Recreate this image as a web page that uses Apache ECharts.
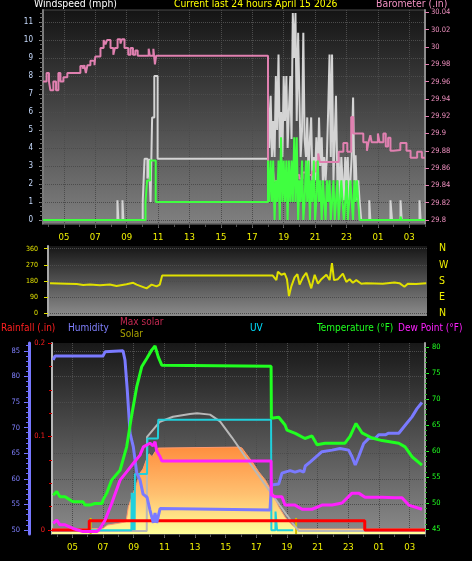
<!DOCTYPE html>
<html><head><meta charset="utf-8">
<script src="https://cdn.jsdelivr.net/npm/echarts@6/dist/echarts.min.js"></script>
<style>html,body{margin:0;padding:0;background:#000;}#c{width:472px;height:561px;}</style>
</head><body><div id="c"></div>
<script>
// ---------- tick / label arrays ----------
const X_MIN = 3.67, X_MAX = 28.0;              // hours (24+ = next day)
const hourLabels = [5,7,9,11,13,15,17,19,21,23,25,27];
const hourTicks = [4,5,6,7,8,9,10,11,12,13,14,15,16,17,18,19,20,21,22,23,24,25,26,27,28];
const windTicks = [0,1,2,3,4,5,6,7,8,9,10,11];
const baroTicks = [29.8,29.82,29.84,29.86,29.88,29.9,29.92,29.94,29.96,29.98,30,30.02,30.04];
const dirTicks = [0,90,180,270,360];
const dirLetters = ['N','E','S','W','N'];
const humTicks = [50,55,60,65,70,75,80,85];
const rainTicks = [0,0.1,0.2];
const tempTicks = [45,50,55,60,65,70,75,80];
const sunTimes = [6.19, 19.59];

// ---------- top panel: wind & barometer ([hour, value], step-end) ----------
const windGust = [[3.67,0],[8.41,1.1],[8.47,0],[8.73,1.1],[8.79,0],[10.02,1.0],[10.14,3.4],[10.32,2.3],[10.42,3.4],[10.52,1.0],[10.62,5.7],[10.76,8.0],[10.97,3.4],
 [18.00,6.9],[18.08,4.0],[18.17,6.9],[18.25,3.5],[18.33,5.5],[18.42,3.5],[18.50,8.0],[18.58,5.0],[18.67,9.2],[18.75,4.0],[18.83,6.0],[18.92,3.5],
 [19.00,8.0],[19.08,5.5],[19.17,8.0],[19.25,4.0],[19.33,6.0],[19.42,8.0],[19.50,4.5],[19.58,11.5],[19.67,9.0],[19.75,11.5],[19.83,5.5],[19.92,10.4],
 [20.00,6.9],[20.08,3.5],[20.17,5.0],[20.25,10.4],[20.33,4.5],[20.42,3.5],[20.50,5.7],[20.58,2.5],[20.67,4.5],[20.75,5.7],[20.83,2.2],[20.92,3.5],
 [21.00,2.2],[21.08,4.6],[21.17,2.2],[21.25,5.7],[21.33,3.0],[21.42,4.6],[21.50,2.0],[21.58,3.5],[21.67,2.2],[21.75,3.5],[21.83,6.0],[21.92,9.2],
 [22.00,3.5],[22.08,9.2],[22.17,2.2],[22.25,4.5],[22.33,6.9],[22.42,2.2],[22.50,3.5],[22.58,1.1],[22.67,3.5],[22.75,2.2],[22.83,1.1],[22.92,3.5],
 [23.00,2.2],[23.08,3.5],[23.17,1.1],[23.25,2.2],[23.33,3.5],[23.42,6.8],[23.50,2.2],[23.58,3.6],[23.67,1.1],[23.75,2.2],[23.83,1.1],[23.94,0],
 [24.45,1.1],[24.52,0],[25.8,1.1],[25.9,0],[26.44,1.1],[26.52,0],[27.65,1.1],[27.72,0],[28.0,0]];
const windAvg = [[3.67,0],[10.2,1.0],[10.3,2.2],[10.5,3.3],[10.85,1.0],
 [18.00,3.3],[18.08,1.0],[18.17,3.3],[18.25,1.0],[18.33,3.3],[18.42,0],[18.50,2.2],[18.58,1.0],[18.67,3.3],[18.75,0],[18.83,4.6],[18.92,1.0],
 [19.00,3.3],[19.08,1.0],[19.17,3.3],[19.25,0],[19.33,3.3],[19.42,1.0],[19.50,3.3],[19.58,1.0],[19.67,4.6],[19.75,1.0],[19.83,4.6],[19.92,0],
 [20.00,2.2],[20.08,1.0],[20.17,3.3],[20.25,0],[20.33,1.0],[20.42,3.3],[20.50,1.0],[20.58,3.3],[20.67,0],[20.75,2.2],[20.83,1.0],[20.92,3.3],
 [21.00,0],[21.08,1.0],[21.17,3.3],[21.25,1.0],[21.33,2.2],[21.42,0],[21.50,2.2],[21.58,1.0],[21.67,0],[21.75,2.2],[21.83,1.0],[21.92,2.2],
 [22.00,0],[22.08,1.0],[22.17,2.2],[22.25,0],[22.33,1.0],[22.42,2.2],[22.50,0],[22.58,1.0],[22.67,2.2],[22.75,1.0],[22.83,0],[22.92,1.0],
 [23.00,2.2],[23.08,0],[23.17,1.0],[23.25,2.2],[23.33,1.0],[23.42,0],[23.50,2.2],[23.58,1.0],[23.67,2.2],[23.75,1.0],[23.83,0],
 [26.44,0.2],[26.5,0],[28.0,0]];
const baro = [[3.67,29.96],[3.9,29.97],[4.05,29.96],[4.14,29.95],[4.33,29.96],[4.5,29.95],[4.65,29.97],[4.78,29.96],[4.97,29.965],[5.22,29.97],
 [6.05,29.978],[6.2,29.975],[6.3,29.979],[6.4,29.97],[6.5,29.979],[6.69,29.984],[6.95,29.979],[7.0,29.989],[7.33,29.999],[7.53,30.008],[7.65,30.003],
 [7.75,30.008],[7.97,29.999],[8.15,29.991],[8.25,29.999],[8.42,30.009],[8.6,30.004],[8.7,30.009],[8.86,29.999],[9.1,29.991],[9.25,29.999],[9.4,29.991],
 [9.55,29.996],[9.7,29.99],[10.4,29.998],[10.47,29.99],[10.7,29.998],[10.8,29.98],[10.88,29.99],
 [18.0,29.845],[18.15,29.85],[18.3,29.86],[18.4,29.845],[18.6,29.84],[18.75,29.85],[18.9,29.838],[19.05,29.85],[19.2,29.842],[19.4,29.85],
 [19.6,29.846],[19.8,29.852],[20.0,29.848],[20.2,29.855],[20.5,29.852],[20.8,29.856],[21.07,29.867],[21.2,29.877],[21.3,29.867],[22.5,29.879],
 [22.8,29.889],[23.05,29.879],[23.3,29.919],[23.43,29.90],[24.07,29.89],[24.3,29.88],[24.4,29.89],[24.52,29.898],[24.6,29.89],[25.0,29.9],
 [25.1,29.89],[25.35,29.9],[25.5,29.885],[25.65,29.895],[25.8,29.88],[25.99,29.881],[26.43,29.889],[26.82,29.88],[27.08,29.872],[27.5,29.879],
 [27.8,29.872],[28.0,29.872]];

// ---------- middle panel: wind direction (deg) ----------
const windDir = [[3.8,168],[4.87,165],[5.51,163],[5.93,158],[6.36,160],[7.0,156],[7.64,160],[8.07,152],[8.71,162],[9.14,170],[9.36,160],[10.0,139],
 [10.32,160],[10.64,150],[10.85,160],[11.0,210],[18.1,210],[18.33,185],[18.43,232],[18.65,215],[18.86,222],[19.01,190],[19.14,96],[19.29,150],
 [19.5,200],[19.68,218],[19.82,160],[20.04,200],[20.25,226],[20.57,139],[20.79,215],[21.0,165],[21.22,190],[21.54,215],[21.75,185],[21.9,279],
 [22.03,185],[22.28,190],[22.6,221],[22.82,175],[23.03,190],[23.24,170],[23.46,185],[23.78,165],[24.1,168],[25.16,165],[25.91,172],[26.23,168],
 [26.55,148],[26.77,165],[27.3,163],[27.95,168]];

// ---------- bottom panel ----------
const temperature = [[3.75,51.5],[3.98,52.2],[4.19,51.2],[4.52,51.2],[4.63,51.4],[4.84,50.6],[5.04,50.25],[5.69,50.25],[5.82,49.6],[6.15,49.6],
 [6.47,49.9],[6.93,49.9],[7.0,50.6],[7.24,51.9],[7.56,54.4],[8.11,56.3],[8.54,60.8],[8.87,66.9],[9.2,72.4],[9.52,76.2],[9.85,77.8],[10.17,79.4],
 [10.39,80.2],[10.6,78.1],[10.83,76.5],[10.91,76.3],[17.96,76.3],[17.98,66.3],[18.46,66.5],[18.87,65],[19.0,64],[19.54,63.4],[20.17,62.4],
 [20.63,62.9],[20.96,61.2],[21.48,61.5],[22.78,61.5],[23.11,62.8],[23.5,65.3],[23.89,63.5],[24.54,62.5],[25.2,62],[26.29,61.5],[26.7,60.8],
 [27.15,58.9],[27.8,57.3]];
const humidity = [[3.75,83.2],[3.87,84.0],[7.0,84.0],[7.13,84.8],[7.26,85.0],[8.3,85.0],[8.43,83.2],[8.58,77.3],[8.76,68.9],[8.97,66.3],[9.2,61.1],
 [9.41,59.8],[9.61,57.0],[9.87,56.4],[10.06,53.9],[10.28,51.4],[10.39,53.3],[10.5,51.4],[10.72,54.2],[10.83,53.9],[17.89,53.9],[17.98,58.8],
 [18.46,59.0],[18.67,61.1],[18.87,61.3],[19.2,61.6],[19.52,61.3],[19.85,61.6],[20.09,61.3],[20.19,62.5],[20.52,63.3],[21.28,65.3],[21.94,65.6],
 [22.46,65.9],[23.02,65.6],[23.24,64.3],[23.45,62.7],[23.67,64.3],[24.0,66.9],[24.33,67.9],[24.76,67.9],[24.98,68.6],[25.41,68.6],[25.63,68.9],
 [26.29,68.9],[26.72,70.5],[27.15,72.1],[27.48,73.7],[27.8,74.9]];
const dewPoint = [[3.75,46.1],[3.98,46.7],[4.19,45.8],[4.52,45.8],[4.63,46.1],[5.04,45.1],[5.69,44.5],[6.6,44.5],[6.8,45.1],[7.13,46.7],[7.56,49.9],
 [8.11,54.4],[8.54,56],[8.97,57.6],[9.41,59.2],[9.63,60.8],[10.06,61.5],[10.26,61.0],[10.39,61.8],[10.5,60.0],[10.72,58.9],[10.83,58.1],
 [17.96,58.1],[17.98,51.5],[18.24,51.2],[18.67,51.2],[18.87,49.6],[19.52,49.6],[19.98,48.8],[20.63,48.8],[21.28,49.6],[21.94,49.6],[22.59,50.0],
 [23.24,51.9],[23.67,51.9],[24.09,51.1],[25.2,51.1],[26.04,51.0],[26.5,51.0],[26.94,49.6],[27.8,48.8]];
const rainfall = [[3.67,0],[6.1,0.01],[24.07,0],[28.0,0]];
const solar = [[3.67,10],[6.0,10],[6.05,12],[7.0,14],[7.3,31],[8.0,40],[8.5,48],[8.65,127],[8.97,198],[9.2,251],[9.41,303],[9.6,324],[9.87,382],
 [10.0,404],[10.2,389],[10.39,414],[10.6,434],[10.72,439],[15.9,439],[16.06,434],[16.39,398],[16.72,363],[17.15,310],[17.58,267],[18.02,205],
 [18.46,127],[18.89,71],[19.33,31],[19.65,12],[19.9,10],[28.0,10]];
const maxSolar = [[3.67,0],[9.85,0],[9.87,492],[10.71,572],[11.56,598],[12.67,612],[13.13,616],[13.98,609],[14.63,574],[15.41,489],[16.5,363],
 [17.58,241],[18.67,119],[19.54,22],[19.76,0],[28.0,0]];
const uvIndex = [[3.67,0],[8.85,0],[8.87,2],[8.95,0],[9.0,2],[9.06,0],[9.08,3],[9.87,3],[9.89,4.9],[10.58,4.9],[10.6,5.9],[17.96,5.9],[17.98,0],
 [18.24,0],[18.25,1],[18.34,1],[18.35,0],[19.4,0]];

// ---------- chart ----------
const FONT = "'DejaVu Sans Condensed','DejaVu Sans',sans-serif";
const fmtHour = v => String(Math.round(v) % 24).padStart(2, '0');
const fmtNum = v => String(+(+v).toFixed(3));
const bgGrad = (c1, c2) => new echarts.graphic.LinearGradient(0, 0, 0, 1, [{offset:0,color:c1},{offset:1,color:c2}]);
const range = (a, b, s) => { const r = []; for (let v = a; v <= b + 1e-9; v += s) r.push(+v.toFixed(4)); return r; };

const windMinor = range(0, 11.5, 0.25);
const rainMinor = range(0, 0.2, 0.025);
const tempMinor = range(45, 80, 1);
const humMinor = range(50, 86, 1);

function mainX(grid) {
  return {gridIndex:grid, type:'value', min:X_MIN, max:X_MAX, position:'bottom',
    axisLine:{show:true, onZero:false, lineStyle:{color:'#404040'}},
    axisTick:{customValues:hourLabels, length:4, lineStyle:{color:'#707070'}},
    axisLabel:{customValues:hourLabels, formatter:fmtHour, color:'#f0f000', fontSize:9.5, margin:9, fontFamily:FONT},
    splitLine:{show:true, lineStyle:{color:'#4c4c4c', type:'dotted'}}};
}
function minorX(grid) {
  return {gridIndex:grid, type:'value', min:X_MIN, max:X_MAX, position:'bottom',
    axisLine:{show:false, onZero:false}, axisTick:{customValues:hourTicks, length:3, lineStyle:{color:'#555'}},
    axisLabel:{show:false}, splitLine:{show:false}};
}
function minorY(grid, pos, min, max, vals, color, len, offset) {
  return {gridIndex:grid, type:'value', position:pos, offset:offset||0, min, max,
    axisLine:{show:false, onZero:false}, axisTick:{customValues:vals, length:len, lineStyle:{color}},
    axisLabel:{show:false}, splitLine:{show:false}};
}
const hidden = (grid, min, max) => ({gridIndex:grid, type:'value', show:false, min, max, splitLine:{show:false}});

const titles = [
  ['Windspeed (mph)', 34, -1, '#ffffff', 10.4],
  ['Current last 24 hours April 15 2026', 174, -1, '#ffff00', 10.3],
  ['Barometer (.in)', 376, -1, '#f090c0', 10.4],
  ['Rainfall (.in)', 1, 323.5, '#ff2020', 10],
  ['Humidity', 68, 323.5, '#8080ff', 10],
  ['Max solar', 120, 317, '#c02850', 10],
  ['Solar', 120, 329.5, '#a8a000', 10],
  ['UV', 250, 323.5, '#00e0ff', 10],
  ['Temperature (°F)', 317, 323.5, '#20ff20', 10],
  ['Dew Point (°F)', 398, 323.5, '#ff20ff', 10]
].map(([text, left, top, color, size]) => ({text, left, top, padding:0,
  textStyle:{color, fontSize:size, fontWeight:'normal', fontFamily:FONT}}));

const line = (data, xi, yi, color, width, extra) => Object.assign({type:'line', data, xAxisIndex:xi, yAxisIndex:yi,
  symbol:'none', lineStyle:{color, width}, itemStyle:{color}, silent:true}, extra||{});

const option = {
  backgroundColor:'#000',
  animation:false,
  textStyle:{fontFamily:FONT},
  title:titles,
  grid:[
    {left:43, right:47, top:10, height:214, show:true, backgroundColor:bgGrad('#141414','#808080'), borderWidth:1, borderColor:'#4a4a4a'},
    {left:48, right:45, top:246, height:70, show:true, backgroundColor:bgGrad('#161616','#8c8c8c'), borderWidth:0},
    {left:52, right:47, top:343, height:191, show:true, backgroundColor:bgGrad('#181818','#8a8a8a'), borderWidth:0}
  ],
  xAxis:[
    mainX(0), minorX(0),
    {gridIndex:1, type:'value', min:X_MIN, max:X_MAX, position:'bottom', show:false, axisLine:{onZero:false}},
    mainX(2), minorX(2)
  ],
  yAxis:[
    // 0 wind
    {gridIndex:0, type:'value', position:'left', min:-0.222, max:11.667,
      axisLine:{show:true, onZero:false, lineStyle:{color:'#7c7c7c', width:2}},
      axisTick:{customValues:windTicks, length:4, lineStyle:{color:'#909090'}},
      axisLabel:{customValues:windTicks, color:'#c8dcff', fontSize:8, margin:10, fontFamily:FONT},
      splitLine:{show:true, lineStyle:{color:'#4c4c4c', type:'dotted'}}},
    // 1 wind minor
    minorY(0, 'left', -0.222, 11.667, windMinor, '#6a6a6a', 3),
    // 2 baro
    {gridIndex:0, type:'value', position:'right', min:29.7954, max:30.0428,
      axisLine:{show:true, onZero:false, lineStyle:{color:'#8c8c8c', width:2}},
      axisTick:{customValues:baroTicks, length:4, lineStyle:{color:'#e080b0'}},
      axisLabel:{customValues:baroTicks, formatter:fmtNum, color:'#f090c0', fontSize:7.5, margin:6, fontFamily:FONT},
      splitLine:{show:false}},
    // 3 direction
    {gridIndex:1, type:'value', position:'left', min:-15, max:375,
      axisLine:{show:true, onZero:false, lineStyle:{color:'#a8a8a8', width:2}},
      axisTick:{customValues:dirTicks, length:4, lineStyle:{color:'#e0e000'}},
      axisLabel:{customValues:dirTicks, color:'#e0e000', fontSize:7, margin:10, fontFamily:FONT},
      splitLine:{show:true, lineStyle:{color:'#4c4c4c', type:'dotted'}}},
    // 4 direction letters
    {gridIndex:1, type:'value', position:'right', min:-15, max:375,
      axisLine:{show:false, onZero:false}, axisTick:{show:false, customValues:dirTicks},
      axisLabel:{customValues:dirTicks, formatter:v => dirLetters[dirTicks.indexOf(Math.round(v))], color:'#f0f000', fontSize:10.5, margin:12, fontFamily:FONT},
      splitLine:{show:false}},
    // 5 humidity
    {gridIndex:2, type:'value', position:'left', offset:23, min:49.22, max:86.52,
      axisLine:{show:true, onZero:false, lineStyle:{color:'#7878ff', width:3}},
      axisTick:{customValues:humTicks, length:5, lineStyle:{color:'#7878ff'}},
      axisLabel:{customValues:humTicks, color:'#8080ff', fontSize:7.5, margin:9, fontFamily:FONT},
      splitLine:{show:true, lineStyle:{color:'#4c4c4c', type:'dotted'}}},
    // 6 rain
    {gridIndex:2, type:'value', position:'left', min:-0.00426, max:0.2,
      axisLine:{show:true, onZero:false, lineStyle:{color:'#b8b8b8', width:2}},
      axisTick:{customValues:rainTicks, length:4, lineStyle:{color:'#ff0000'}},
      axisLabel:{customValues:rainTicks, formatter:fmtNum, color:'#ff2020', fontSize:7.5, margin:7, fontFamily:FONT},
      splitLine:{show:false}},
    // 7 rain minor
    minorY(2, 'left', -0.00426, 0.2, rainMinor, '#d00000', 3),
    // 8 temperature
    {gridIndex:2, type:'value', position:'right', min:44.04, max:80.77,
      axisLine:{show:true, onZero:false, lineStyle:{color:'#a0a0a0', width:2}},
      axisTick:{customValues:tempTicks, length:4, lineStyle:{color:'#20ff20'}},
      axisLabel:{customValues:tempTicks, color:'#20ff20', fontSize:7.5, margin:7, fontFamily:FONT},
      splitLine:{show:false}},
    // 9 temp minor
    minorY(2, 'right', 44.04, 80.77, tempMinor, '#20b020', 2),
    // 10 solar (hidden)
    hidden(2, -16, 984),
    // 11 uv (hidden)
    hidden(2, -0.2, 10),
    // 12 humidity minor
    minorY(2, 'left', 49.22, 86.52, humMinor, '#6a6aff', 3, 23)
  ],
  series:[
    line(windGust, 0, 0, '#d4d4d4', 2, {step:'end', z:3}),
    line(baro, 0, 2, '#e080b0', 2, {step:'end', z:4}),
    line(windAvg, 0, 0, '#40ff40', 2, {step:'end', z:5}),
    line(windDir, 2, 3, '#e0e000', 2, {z:3}),
    line(solar, 3, 10, '#ff9a70', 1, {z:2, areaStyle:{origin:'start', opacity:1,
      color:new echarts.graphic.LinearGradient(0, 445, 0, 534, [{offset:0,color:'#ff8c3c'},{offset:0.55,color:'#ffc070'},{offset:1,color:'#ffff98'}], true)}}),
    ...sunTimes.map(t => line([[t,-16],[t,68]], 3, 10, '#d0c000', 2, {z:3})),
    line(maxSolar, 3, 10, '#b8b8b8', 2, {z:3}),
    line(uvIndex, 3, 11, '#20d0dc', 2, {z:4}),
    line(rainfall, 3, 6, '#ff0000', 3, {step:'end', z:5}),
    line(humidity, 3, 5, '#7a7aff', 3, {z:6}),
    line(temperature, 3, 8, '#20ff20', 3, {z:7}),
    line(dewPoint, 3, 8, '#ff20ff', 3, {z:8})
  ]
};
const chart = echarts.init(document.getElementById('c'), null, {renderer:'canvas'});
chart.setOption(option);
</script></body></html>
